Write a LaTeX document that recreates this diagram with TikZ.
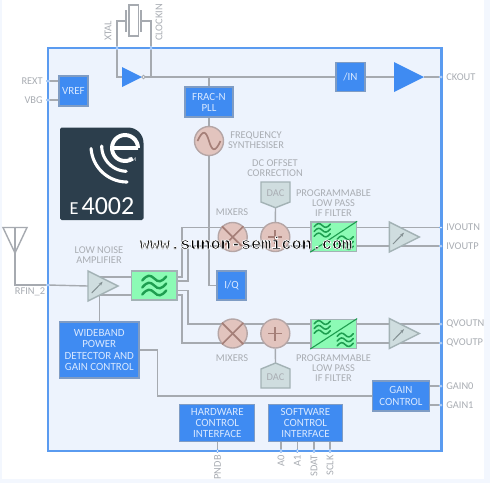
\documentclass[tikz,border=0pt]{standalone}
\usepackage{fontspec}
\setmainfont{Carlito}
\newfontfamily\wmfont{Liberation Mono}
\usetikzlibrary{arrows.meta,shapes.geometric,backgrounds}
\definecolor{chipfill}{HTML}{EDF3FD}
\definecolor{chipline}{HTML}{5A9BF0}
\definecolor{wirecol}{HTML}{A6AAB0}
\definecolor{labelcol}{HTML}{A9ADB3}
\definecolor{boxblue}{HTML}{3F8BF2}
\definecolor{boxline}{HTML}{7F9CC4}
\definecolor{boxtext}{HTML}{D8E8FF}
\definecolor{greyfill}{HTML}{CFDDDF}
\definecolor{greyline}{HTML}{A3B2B5}
\definecolor{rosefill}{HTML}{E2C4BE}
\definecolor{roseline}{HTML}{B5A6A6}
\definecolor{rosedark}{HTML}{A57F78}
\definecolor{fltfill}{HTML}{8CFBB5}
\definecolor{wavecol}{HTML}{1E9E50}
\definecolor{logocol}{HTML}{2C3E4C}
\def\u{0.025cm}
\begin{document}
\begin{tikzpicture}[
  x=0.025cm, y=-0.025cm,
  font=\fontsize{7.4}{7.2}\selectfont,
  blk/.style 2 args={draw=boxline, line width=0.8pt, fill=boxblue, text=boxtext, align=center,
             inner sep=0pt, minimum width=#1*\u, minimum height=#2*\u,
             font=\fontsize{7.8}{7.9}\selectfont},
  lbl/.style={text=labelcol, align=center, inner sep=0pt},
  wire/.style={draw=wirecol, line width=1pt},
  pinmark/.style={circle, draw=chipline, fill=white, line width=0.4pt, inner sep=0pt, minimum size=3*\u},
  tri/.style 2 args={isosceles triangle, isosceles triangle stretches, shape border rotate=0,
             anchor=lower side, inner sep=0pt, outer sep=0pt, minimum width=#2*\u, minimum height=#1*\u},
  solid tri/.style={fill=boxblue},
  amp/.style={tri={30}{30}, fill=greyfill, draw=greyline, line width=1pt},
  roundel/.style={circle, fill=rosefill, draw=roseline, line width=1pt, inner sep=0pt, minimum size=29*\u},
  crossbar/.style={draw=rosedark, line width=1.2pt},
  flt/.style 2 args={draw=greyline, line width=1pt, fill=fltfill, inner sep=0pt,
             minimum width=#1*\u, minimum height=#2*\u},
  dacbody/.style={fill=greyfill, draw=greyline, line width=1pt},
  waves/.pic={
    \foreach \dy in {-7,0,7}
      \draw[wavecol, line cap=round, pic actions] (-12,\dy+2) .. controls (-7,\dy-4) and (-4,\dy-4) .. (0,\dy) .. controls (4,\dy+4) and (7,\dy+4) .. (12,\dy-2);
  }
]
\useasboundingbox (0,0) rectangle (490,483);

% page and chip outline
\begin{pgfonlayer}{background}
\fill[chipfill!70] (0,0) rectangle (490,483);
\fill[white] (2,0) rectangle (484,479);
\draw[chipline, line width=1.5pt, fill=chipfill] (48,48) rectangle (441.5,451);
\end{pgfonlayer}

% blocks
\node[blk={29}{30}] (vref) at (73.5,91) {VREF};
\node[blk={48}{30}] (pll) at (209,102) {FRAC-N\\PLL};
\node[blk={29}{29.5}] (divn) at (350.5,77) {/IN};
\node[blk={29}{29}] (iq) at (231.5,285.5) {I/Q};
\node[blk={79.5}{56}] (wb) at (99.25,350) {WIDEBAND\\POWER\\DETECTOR AND\\GAIN CONTROL};
\node[blk={57}{30}] (gain) at (401,396) {GAIN\\CONTROL};
\node[blk={75}{37}] (hwif) at (217.3,423) {HARDWARE\\CONTROL\\INTERFACE};
\node[blk={74.5}{37}] (swif) at (305.5,423) {SOFTWARE\\CONTROL\\INTERFACE};

% crystal
\node[draw=wirecol, fill=white, line width=1pt, inner sep=0pt, minimum width=9.5*\u, minimum height=31*\u] (xtal) at (133.7,20.5) {};
\node[fill=wirecol, inner sep=0pt, minimum width=2*\u, minimum height=22*\u] (platel) at (126,21) {};
\node[fill=wirecol, inner sep=0pt, minimum width=2*\u, minimum height=22*\u] (plater) at (141,21) {};

% triangles
\node[tri={20}{20}, solid tri] (buf) at (122,77) {};
\node[circle, draw=wirecol, fill=white, line width=0.6pt, inner sep=0pt, minimum size=3.5*\u] (bubble) at (143.5,77) {};
\node[tri={30}{30}, solid tri] (drv) at (394,77) {};
\node[amp] (lna) at (88,286) {};
\node[amp] (ampi) at (389.3,237) {};
\node[amp] (ampq) at (389.3,333.5) {};

% round blocks
\node[roundel] (syn) at (209,141) {};
\node[roundel] (mixi) at (232.7,237) {};
\node[roundel] (addi) at (275.3,237) {};
\node[roundel] (mixq) at (232.7,333.5) {};
\node[roundel] (addq) at (275.3,333.5) {};
\draw[crossbar] (197.5,141) .. controls (203,129) and (206,131) .. (209,141) .. controls (212,151) and (215,153) .. (220.5,141);
\foreach \m in {mixi,mixq}{
  \draw[crossbar] (\m.45) -- (\m.225);
  \draw[crossbar] (\m.135) -- (\m.315);
}
\foreach \a in {addi,addq}{
  \draw[crossbar] ([xshift=-7*\u]\a.center) -- ([xshift=7*\u]\a.center);
  \draw[crossbar] ([yshift=-7*\u]\a.center) -- ([yshift=7*\u]\a.center);
}
\foreach \a in {lna,ampi,ampq}
  \draw[draw=greyline!80!black, line width=0.7pt, -{Stealth[length=3pt]}] ([shift={(3.7,7)}]\a.lower side) -- ([shift={(14.7,-4.3)}]\a.lower side);

% filters
\node[flt={45.5}{29}] (fltin) at (154.25,285.5) {};
\pic[line width=1.7pt] at (fltin.center) {waves};
\node[flt={45.5}{29.5}] (flti) at (333.7,236.7) {};
\node[flt={45.5}{29}] (fltq) at (333.7,333.8) {};
\foreach \f in {flti,fltq}{
  \draw[wavecol, line width=0.8pt] (\f.south west) -- (\f.north east);
  \pic[scale=0.68, line width=1.1pt] at ([shift={(-11.5,-6.5)}]\f.center) {waves};
  \pic[scale=0.68, line width=1.1pt] at ([shift={(11.5,6)}]\f.center) {waves};
}

% DACs
\draw[dacbody] (261,182) -- (290,182) -- (290,202) -- (275.5,207.7) -- (261,202) -- cycle;
\node[text=labelcol, inner sep=0pt] (daci) at (275.5,193) {DAC};
\coordinate (dacitip) at (275.5,207.7);
\draw[dacbody] (261,388) -- (290,388) -- (290,369) -- (275.5,363) -- (261,369) -- cycle;
\node[text=labelcol, inner sep=0pt] (dacq) at (275.5,377) {DAC};
\coordinate (dacqtip) at (275.5,363);

% logo
\fill[logocol, rounded corners=1.2pt] (60,220) -- (60,127.5) -- (120,127.5) [rounded corners=11pt] -- (143.5,127.5) [rounded corners=1.2pt] -- (143.5,220) -- cycle;
\draw[white, line width=2.8pt] (112,148) -- (138,148) plot[smooth, domain=0:305] ({125+13*cos(\x)},{148-13*sin(\x)});
\draw[white, line width=2.2pt, line cap=round] plot[smooth, domain=180:268] ({127+25.3*cos(\x)},{146-25.3*sin(\x)});
\draw[white, line width=2.2pt, line cap=round] plot[smooth, domain=184:270] ({127+36*cos(\x)},{146-36*sin(\x)});
\node[text=white, inner sep=0pt, font=\fontsize{4}{4}\selectfont] (tm) at (132.5,160) {TM};
\node[text=white, inner sep=0pt, anchor=base] (logotxt) at (102,214) {\fontsize{13}{13}\selectfont E\,\fontsize{18.5}{18.5}\selectfont 4002};

% pins
\node[pinmark] (prext) at (48,81) {};
\node[pinmark] (pvbg) at (48,100) {};
\node[pinmark] (pxtal) at (117,48) {};
\node[pinmark] (pclk) at (151,48) {};
\node[pinmark] (pckout) at (441,77) {};
\node[pinmark] (pin) at (441,227.5) {};
\node[pinmark] (pip) at (441,246) {};
\node[pinmark] (pqn) at (441,324) {};
\node[pinmark] (pqp) at (441,343) {};
\node[pinmark] (pg0) at (441,386) {};
\node[pinmark] (pg1) at (441,405) {};
\node[pinmark] (prf) at (48,285) {};
\node[pinmark] (ppndb) at (217.5,451) {};
\node[pinmark] (pa0) at (281,451) {};
\node[pinmark] (pa1) at (297.3,451) {};
\node[pinmark] (psdat) at (314,451) {};
\node[pinmark] (psclk) at (330,451) {};

% antenna
\coordinate (anttop) at (15,227.5);
\coordinate (ant) at (15,253);
\draw[wire] (3,227.5) -- (27,227.5) -- (ant) -- cycle;

% coordinates on the input filter
\coordinate (lnaa) at (100,277);
\coordinate (lnab) at (100,295);
\coordinate (flta) at (177,277);
\coordinate (fltb) at (177,281);
\coordinate (fltc) at (177,290.7);
\coordinate (fltd) at (177,295);

% wires, behind the blocks
\begin{pgfonlayer}{background}
\draw[wire] (prext) -- (prext -| vref.west);
\draw[wire] (pvbg) -- (pvbg -| vref.west);
\draw[wire] (platel.west) -| (pxtal) |- (buf.lower side);
\draw[wire] (plater.east) -| (pclk) -- (pclk |- buf.apex);
\draw[wire] (buf.apex) -- (divn.west);
\draw[wire] (divn.east) -- (drv.lower side);
\draw[wire] (drv.apex) -- (pckout);
\draw[wire] (pll.north) -- (pll.north |- buf.apex);
\draw[wire] (pll.south) -- (syn.north);
\draw[wire] (syn.south) |- (iq.west);
\draw[wire] (anttop) -- (anttop |- prf) -- (prf);
\draw[wire] (prf) -- (lna.lower side);
\draw[wire] (lnaa) -- (lnaa -| fltin.west);
\draw[wire] (lnab) -- (lnab -| fltin.west);
\draw[wire] (wb.north) -- (wb.north |- lna.lower side);
\draw[wire] (flta) -- ++(5,0) |- (pin);
\draw[wire] (fltb) -- ++(11,0) |- (pip);
\draw[wire] (fltc) -- ++(11,0) |- (pqn);
\draw[wire] (fltd) -- ++(5,0) |- (pqp);
\draw[wire] (dacitip) -- (addi.north);
\draw[wire] (dacqtip) -- (addq.south);
\draw[wire] (wb.east) -- ++(18,0) |- (gain.west);
\draw[wire] (pg0) -- (pg0 -| gain.east);
\draw[wire] (pg1) -- (pg1 -| gain.east);
\draw[wire] (ppndb) -- (ppndb |- hwif.south);
\draw[wire] (pa0) -- (pa0 |- swif.south);
\draw[wire] (pa1) -- (pa1 |- swif.south);
\draw[wire] (psdat) -- (psdat |- swif.south);
\draw[wire] (psclk) -- (psclk |- swif.south);
\end{pgfonlayer}

% labels
\node[lbl, anchor=east] (lrext) at (43,81) {REXT};
\node[lbl, anchor=east] (lvbg) at (43,100) {VBG};
\node[lbl, rotate=90, anchor=west] (lxtal) at (108,41) {XTAL};
\node[lbl, rotate=90, anchor=west] (lclk) at (159,41) {CLOCKIN};
\node[lbl, anchor=west] (lckout) at (446,77) {CKOUT};
\node[lbl] (lsyn) at (256,140) {FREQUENCY\\SYNTHESISER};
\node[lbl] (ldc) at (275,168) {DC OFFSET\\CORRECTION};
\node[lbl] (lfilti) at (333.5,203) {PROGRAMMABLE\\LOW PASS\\IF FILTER};
\node[lbl] (lmixi) at (232,212) {MIXERS};
\node[lbl, anchor=west] (lin) at (446,227.5) {IVOUTN};
\node[lbl, anchor=west] (lip) at (446,246) {IVOUTP};
\node[lbl] (llna) at (99,255) {LOW NOISE\\AMPLIFIER};
\node[lbl] (lrf) at (30,291.5) {RFIN\_2};
\node[lbl] (lmixq) at (232,358) {MIXERS};
\node[lbl] (lfiltq) at (333.5,368) {PROGRAMMABLE\\LOW PASS\\IF FILTER};
\node[lbl, anchor=west] (lqn) at (446,324) {QVOUTN};
\node[lbl, anchor=west] (lqp) at (446,343) {QVOUTP};
\node[lbl, anchor=west] (lg0) at (446,386) {GAIN0};
\node[lbl, anchor=west] (lg1) at (446,405) {GAIN1};
\node[lbl, rotate=90, anchor=east] (lpndb) at (217.5,455) {PNDB};
\node[lbl, rotate=90, anchor=east] (la0) at (281,455) {A0};
\node[lbl, rotate=90, anchor=east] (la1) at (297.3,455) {A1};
\node[lbl, rotate=90, anchor=east] (lsdat) at (314,455) {SDAT};
\node[lbl, rotate=90, anchor=east] (lsclk) at (330,455) {SCLK};

% site mark across the middle
\node[inner sep=0pt, font=\wmfont\bfseries\fontsize{12}{12}\selectfont] (site) at (246,243) {\special{pdf:literal 2 Tr 0.5 w 1 1 1 RG}www.sunon-semicon.com\special{pdf:literal 0 Tr}};
\end{tikzpicture}
\end{document}
